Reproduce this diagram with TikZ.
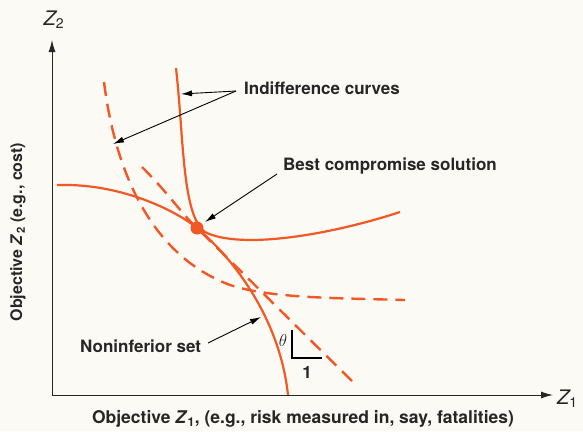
\documentclass[tikz,border=0pt]{standalone}
\usepackage{fontspec}
\setmainfont{TeX Gyre Heros}
\usetikzlibrary{arrows.meta}
\definecolor{curve}{RGB}{242,88,36}
\definecolor{paper}{RGB}{252,250,245}
\tikzset{
  curvesolid/.style={draw=curve, line width=2.2pt},
  curvedash/.style={draw=curve, line width=2.4pt, dash pattern=on 14pt off 8pt},
  axis/.style={draw=black!85, line width=1pt, -{Latex[length=12pt,width=7pt]}},
  pointer/.style={draw=black, line width=0.9pt, -{Latex[length=11pt,width=6pt]}},
  lbl/.style={font=\fontsize{17}{20}\selectfont\bfseries, inner sep=0pt, text=black!85},
}
\begin{document}
\begin{tikzpicture}[x=1pt,y=-1pt]
\fill[paper] (0,0) rectangle (583,431);
\useasboundingbox (0,0) rectangle (583,431);
% axes
\coordinate (O) at (52,395);
\coordinate (Ytop) at (52,40);
\coordinate (Xend) at (553,395);
\draw[axis] (O) -- (Ytop);
\draw[axis] (O) -- (Xend);
\node[lbl, font=\fontsize{20}{22}\selectfont\itshape] (z2) at (54,20) {Z\textsubscript{\upshape 2}};
\node[lbl, font=\fontsize{20}{22}\selectfont\itshape, anchor=west] (z1) at (557,399) {Z\textsubscript{\upshape 1}};
\node[lbl, font=\fontsize{16}{18}\selectfont\bfseries, rotate=90] (ylab) at (18,232) {Objective \textit{Z}\textsubscript{2} (e.g., cost)};
\node[lbl, font=\fontsize{17.5}{19}\selectfont\bfseries] (xlab) at (303,419) {Objective \textit{Z}\textsubscript{1}, (e.g., risk measured in, say, fatalities)};
% noninferior set
\draw[curvesolid] (57,185) .. controls (120,183) and (175,210) .. (197,228)
  .. controls (235,260) and (280,320) .. (288,395);
% solid indifference curve
\draw[curvesolid] (176,68) .. controls (184,140) and (182,215) .. (205,232)
  .. controls (240,250) and (330,235) .. (400,212);
% dashed indifference curve
\draw[curvedash] (104,82) .. controls (115,170) and (150,255) .. (230,285)
  .. controls (270,298) and (330,298) .. (405,300);
% tangent dashed line
\draw[curvedash] (142,167) .. controls (170,195) and (180,212) .. (197,228)
  .. controls (260,290) and (300,330) .. (353,382);
% best compromise point
\fill[curve] (197,228) circle (6.5);
\coordinate (best) at (197,228);
% theta triangle
\draw[black, line width=1.2pt] (292,330) -- (292,358) -- (322,358);
\node[lbl, font=\fontsize{17}{18}\selectfont] (theta) at (283,340) {$\theta$};
\node[lbl] (one) at (307,372) {1};
% labels
\node[lbl, anchor=west] (ind) at (244,88) {Indifference curves};
\coordinate (indstart) at (236,91);
\coordinate (indA) at (181,94);
\coordinate (indB) at (113,144);
\draw[pointer] (indstart) -- (indA);
\draw[pointer] (indstart) -- (indB);
\node[lbl, anchor=west] (bcs) at (283,166) {Best compromise solution};
\coordinate (bcsstart) at (277,174);
\coordinate (bcsend) at (205,222);
\draw[pointer] (bcsstart) -- (bcsend);
\node[lbl, anchor=west] (nis) at (80,346) {Noninferior set};
\coordinate (nisstart) at (208,343);
\coordinate (nisend) at (261,317);
\draw[pointer] (nisstart) -- (nisend);
\end{tikzpicture}
\end{document}
